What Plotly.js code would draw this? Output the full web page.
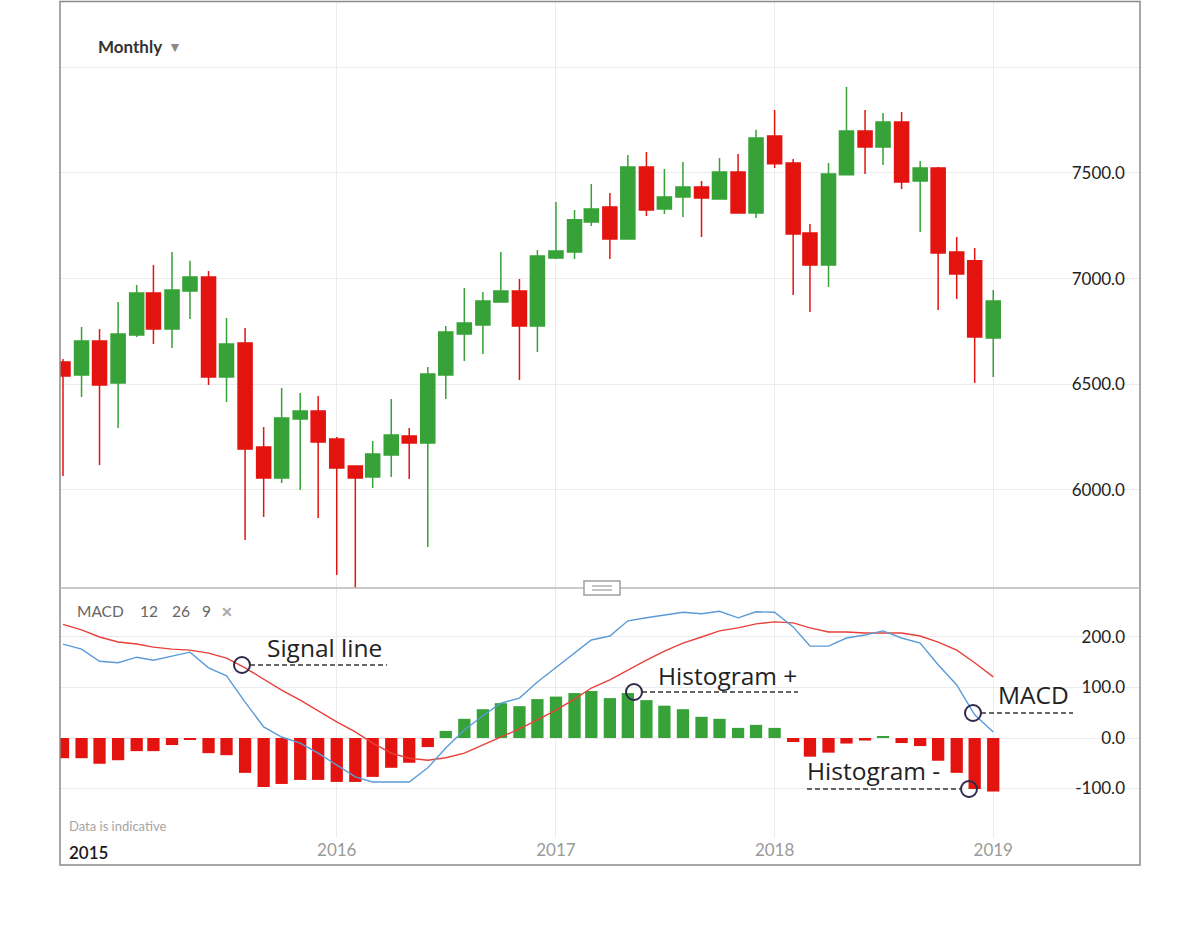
<!DOCTYPE html>
<html>
<head>
<meta charset="utf-8">
<script src="https://cdn.plot.ly/plotly-3.0.1.min.js"></script>
<style>
  html, body { margin: 0; padding: 0; background: #ffffff; }
  #chart { width: 1200px; height: 932px; }
</style>
</head>
<body>
<div id="chart"></div>
<script>
// ---------- data ----------
const months = [
  '2014-10-01','2014-11-01','2014-12-01',
  '2015-01-01','2015-02-01','2015-03-01','2015-04-01','2015-05-01','2015-06-01',
  '2015-07-01','2015-08-01','2015-09-01','2015-10-01','2015-11-01','2015-12-01',
  '2016-01-01','2016-02-01','2016-03-01','2016-04-01','2016-05-01','2016-06-01',
  '2016-07-01','2016-08-01','2016-09-01','2016-10-01','2016-11-01','2016-12-01',
  '2017-01-01','2017-02-01','2017-03-01','2017-04-01','2017-05-01','2017-06-01',
  '2017-07-01','2017-08-01','2017-09-01','2017-10-01','2017-11-01','2017-12-01',
  '2018-01-01','2018-02-01','2018-03-01','2018-04-01','2018-05-01','2018-06-01',
  '2018-07-01','2018-08-01','2018-09-01','2018-10-01','2018-11-01','2018-12-01',
  '2019-01-01'
];
const openP  = [6605,6544,6705,6506,6733,6932,6762,6942,7008,6534,6695,6203,6056,6336,6374,6241,6113,6061,6165,6255,6222,6544,6738,6781,6889,6942,6776,7098,7126,7268,7339,7188,7528,7330,7386,7434,7377,7505,7311,7675,7547,7216,7065,7491,7699,7623,7741,7462,7524,7126,7084,6719];
const highP  = [6620,6771,6762,6889,6970,7065,7126,7084,7036,6814,6766,6298,6482,6459,6445,6250,6113,6232,6430,6293,6582,6776,6956,6937,7126,6998,7136,7363,7325,7448,7405,7585,7599,7519,7552,7462,7571,7590,7704,7798,7566,7259,7547,7907,7798,7784,7789,7557,7528,7197,7145,6946];
const lowP   = [6066,6440,6118,6293,6724,6691,6672,6809,6497,6416,5763,5872,6033,6000,5867,5597,5510,6009,6061,6052,5730,6430,6610,6643,6889,6520,6653,7093,7093,7249,7093,7188,7296,7306,7292,7197,7377,7311,7287,7524,6923,6842,6960,7491,7495,7538,7424,7221,6852,6904,6506,6534];
const closeP = [6539,6705,6497,6738,6932,6762,6946,7008,6534,6691,6194,6056,6340,6374,6227,6104,6056,6170,6260,6222,6549,6747,6790,6894,6942,6776,7107,7131,7278,7330,7188,7528,7325,7386,7434,7382,7505,7311,7666,7543,7211,7065,7495,7699,7623,7741,7457,7524,7121,7022,6724,6894];

const macdLine   = [186,176,152,149,160,154,162,170,139,123,71,22,2,-10,-30,-53,-77,-87,-87,-87,-59,-20,16,44,69,79,111,139,168,194,202,232,238,244,249,246,251,238,250,249,220,182,182,198,204,212,198,188,145,105,46,12];
const signalLine = [225,214,200,190,186,180,176,174,168,158,139,117,95,75,53,32,12,-10,-30,-40,-44,-39,-30,-14,2,18,36,55,77,99,115,135,154,172,188,200,212,218,226,230,228,218,210,210,208,208,208,202,190,174,149,121];
const histogram  = [-40,-40,-51,-44,-26,-26,-14,-4,-30,-34,-69,-97,-91,-83,-83,-87,-87,-77,-59,-49,-18,14,38,57,69,63,77,82,89,93,79,89,75,64,57,42,38,20,26,20,-8,-37,-29,-11,-5,4,-10,-16,-45,-69,-101,-106];

const priceTicks     = [6000, 6500, 7000, 7500, 8000];
const priceTickText  = ['6000.0', '6500.0', '7000.0', '7500.0', ''];
const macdTicks      = [-100, 0, 100, 200];
const macdTickText   = ['-100.0', '0.0', '100.0', '200.0'];
const yearTicks      = ['2016-01-01', '2017-01-01', '2018-01-01', '2019-01-01'];
const yearTickText   = ['2016', '2017', '2018', '2019'];
const macdParams     = ['MACD', '12', '26', '9'];

// ---------- styles ----------
const GREEN = '#36a237';
const RED = '#e3140f';
const FONT = 'Lato, "Open Sans", sans-serif';
const ANNO_FONT = '"Open Sans", "Noto Sans", sans-serif';

// plot area in pixels: x 60..1140, y 2..838
const PL = 60, PR = 1140, PT = 2, PB = 838;
const px = x => (x - PL) / (PR - PL);
const py = y => (PB - y) / (PB - PT);
const split = py(588);

const traces = [
  {
    type: 'candlestick',
    x: months, open: openP, high: highP, low: lowP, close: closeP,
    xaxis: 'x', yaxis: 'y',
    increasing: { line: { color: GREEN, width: 1.5 }, fillcolor: GREEN },
    decreasing: { line: { color: RED, width: 1.5 }, fillcolor: RED },
    whiskerwidth: 0,
    hoverinfo: 'skip',
    showlegend: false
  },
  {
    type: 'bar',
    x: months, y: histogram,
    xaxis: 'x', yaxis: 'y2',
    width: 20.5 * 86400000,
    marker: { color: histogram.map(v => v >= 0 ? GREEN : RED), line: { width: 0 } },
    hoverinfo: 'skip',
    showlegend: false
  },
  {
    type: 'scatter', mode: 'lines',
    x: months, y: signalLine,
    xaxis: 'x', yaxis: 'y2',
    line: { color: '#e8403a', width: 1.4 },
    hoverinfo: 'skip', showlegend: false
  },
  {
    type: 'scatter', mode: 'lines',
    x: months, y: macdLine,
    xaxis: 'x', yaxis: 'y2',
    line: { color: '#5b9bd8', width: 1.4 },
    hoverinfo: 'skip', showlegend: false
  }
];

function circle(cx, cy, r) {
  return { type: 'circle', xref: 'paper', yref: 'paper',
    x0: px(cx - r), x1: px(cx + r), y0: py(cy + r), y1: py(cy - r),
    line: { color: '#2c2b4d', width: 2 }, fillcolor: 'rgba(0,0,0,0)', layer: 'above' };
}
function dashLine(x0, x1, y) {
  return { type: 'line', xref: 'paper', yref: 'paper',
    x0: px(x0), x1: px(x1), y0: py(y), y1: py(y),
    line: { color: '#333333', width: 1.6, dash: '5px,3px' }, layer: 'above' };
}
function label(text, x, y, size, color, extraFont) {
  return { xref: 'paper', yref: 'paper', x: px(x), y: py(y),
    xanchor: 'left', yanchor: 'middle', showarrow: false, text: text,
    font: Object.assign({ family: FONT, size: size, color: color }, extraFont || {}) };
}

const shapes = [
  // outer frame
  { type: 'rect', xref: 'paper', yref: 'paper', x0: px(60), x1: px(1140), y0: py(865), y1: py(1.5),
    line: { color: '#8a8a8a', width: 1.5 }, fillcolor: 'rgba(0,0,0,0)', layer: 'above' },
  // panel separator
  { type: 'line', xref: 'paper', yref: 'paper', x0: 0, x1: 1, y0: split, y1: split,
    line: { color: '#b8b8b8', width: 1.5 }, layer: 'above' },
  // handle
  { type: 'rect', xref: 'paper', yref: 'paper', x0: px(584), x1: px(620), y0: py(595), y1: py(581),
    line: { color: '#a0a0a0', width: 1.5 }, fillcolor: '#ffffff', layer: 'above' },
  { type: 'line', xref: 'paper', yref: 'paper', x0: px(592), x1: px(612), y0: py(586), y1: py(586),
    line: { color: '#9a9a9a', width: 1.2 }, layer: 'above' },
  { type: 'line', xref: 'paper', yref: 'paper', x0: px(592), x1: px(612), y0: py(590), y1: py(590),
    line: { color: '#9a9a9a', width: 1.2 }, layer: 'above' },
  // callouts
  circle(242, 665, 8), dashLine(250, 387, 665),
  circle(634, 692, 8), dashLine(642, 798, 692),
  circle(973, 713, 8), dashLine(981, 1073, 713),
  circle(969, 789, 8), dashLine(807, 961, 789)
];

const annoFont = { family: ANNO_FONT, size: 24.5, color: '#222222' };
const annotations = [
  label('<b>Monthly</b>', 96, 46, 17, '#333333'),
  label('▼', 166, 46, 14, '#8a8a8a'),
  label(macdParams[0], 75, 611, 15.5, '#666666'),
  label(macdParams[1], 138, 611, 15.5, '#666666'),
  label(macdParams[2], 170, 611, 15.5, '#666666'),
  label(macdParams[3], 200, 611, 15.5, '#666666'),
  label('<b>✕</b>', 219, 611, 14, '#a8a8a8'),
  label('Data is indicative', 67, 826, 13, '#a5a5a5'),
  label('2015', 67, 852, 17, '#1a1a1a', { weight: 600 }),
  label('Signal line', 265, 647, 24.5, '#222222', annoFont),
  label('Histogram +', 656, 675, 24.5, '#222222', annoFont),
  label('MACD', 996, 694, 24.5, '#222222', annoFont),
  label('Histogram -', 805, 770, 24.5, '#222222', annoFont)
];

const layout = {
  width: 1200, height: 932,
  margin: { l: PL, r: 1200 - PR, t: PT, b: 932 - PB, pad: 0 },
  paper_bgcolor: '#ffffff', plot_bgcolor: '#ffffff',
  font: { family: FONT, color: '#222222' },
  showlegend: false,
  boxgap: 0.1, boxgroupgap: 0.07,
  hovermode: false,
  xaxis: {
    type: 'date', range: ['2014-09-26', '2019-09-03'],
    anchor: 'y2',
    tickvals: yearTicks, ticktext: yearTickText,
    tickfont: { family: FONT, size: 17, color: '#9a9a9a' },
    showgrid: true, gridcolor: '#ececf0', gridwidth: 1,
    zeroline: false, showline: false, ticks: '',
    rangeslider: { visible: false }, fixedrange: true
  },
  yaxis: {
    domain: [split, 1], range: [5536, 8309],
    side: 'right', ticklabelposition: 'inside', ticklabelstandoff: 12,
    tickvals: priceTicks, ticktext: priceTickText,
    tickfont: { family: FONT, size: 17, color: '#222222' },
    showgrid: true, gridcolor: '#ececf0', gridwidth: 1,
    zeroline: false, showline: false, ticks: '', fixedrange: true
  },
  yaxis2: {
    domain: [0, split], range: [-198, 297],
    side: 'right', ticklabelposition: 'inside', ticklabelstandoff: 12,
    tickvals: macdTicks, ticktext: macdTickText,
    tickfont: { family: FONT, size: 17, color: '#222222' },
    showgrid: true, gridcolor: '#ececf0', gridwidth: 1,
    zeroline: false, showline: false, ticks: '', fixedrange: true
  },
  shapes: shapes,
  annotations: annotations
};

Plotly.newPlot('chart', traces, layout, { displayModeBar: false, staticPlot: true });
</script>
</body>
</html>
